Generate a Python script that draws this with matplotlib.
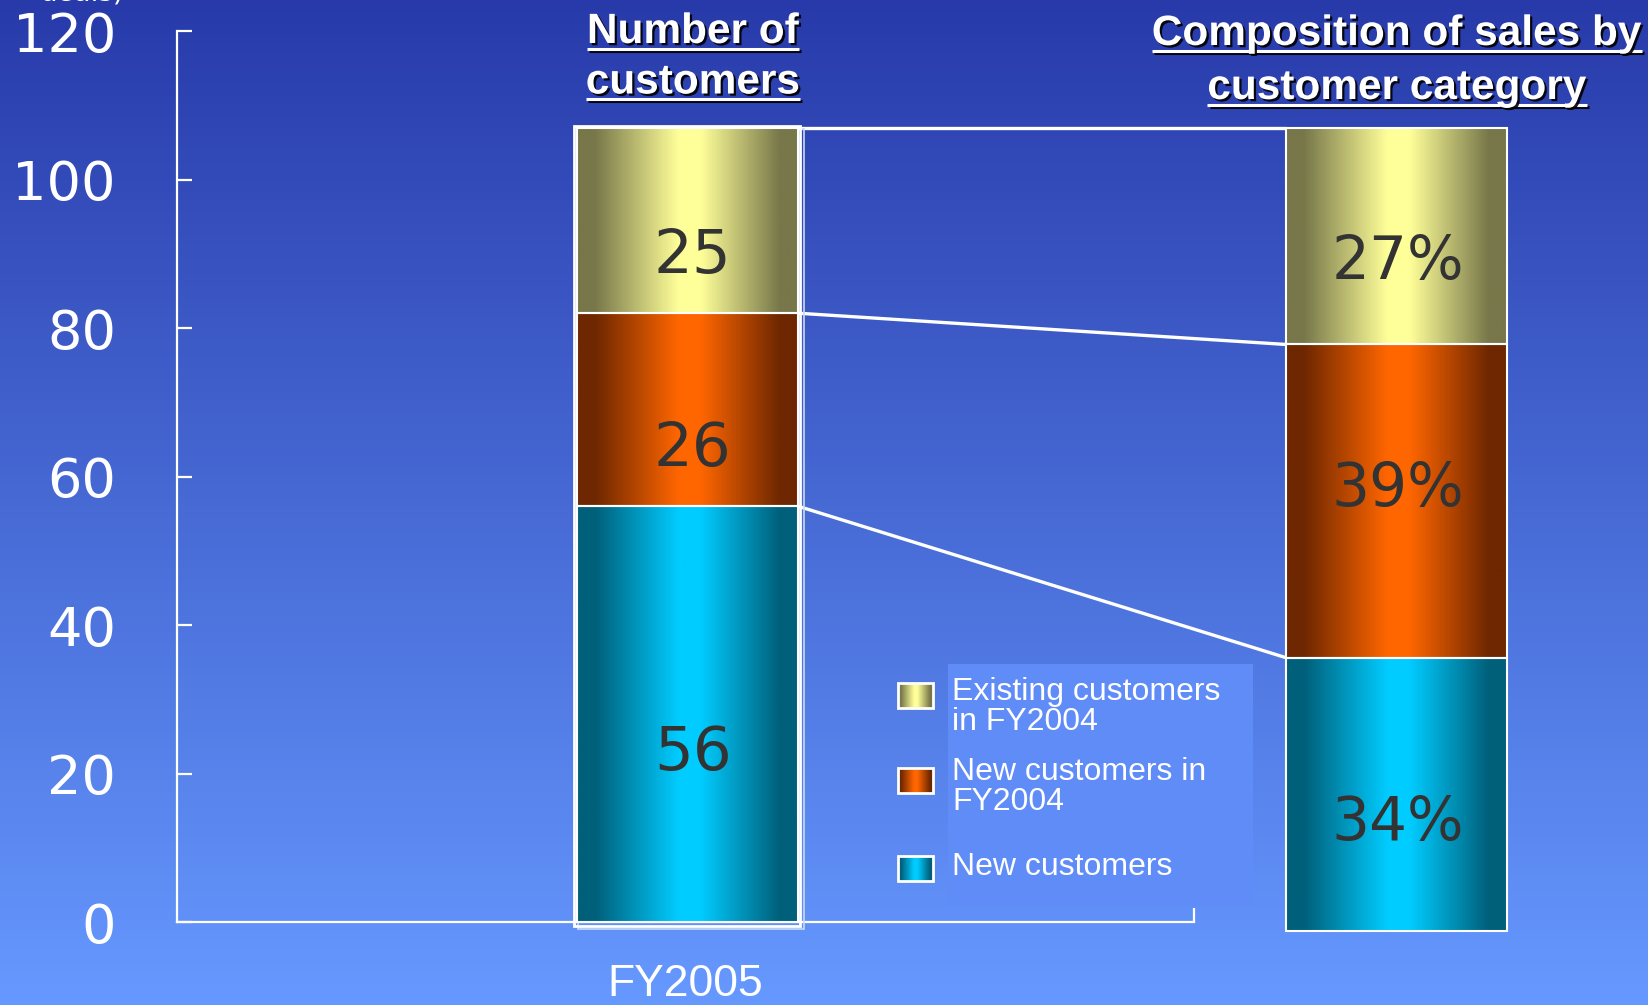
import numpy as np
import matplotlib.pyplot as plt
import matplotlib.patheffects as pe
from matplotlib.colors import LinearSegmentedColormap
from matplotlib.patches import Rectangle

# ---- data (bottom -> top of the stacks) ----
segments = ["New customers", "New customers in\nFY2004", "Existing customers\nin FY2004"]
customers = [56, 26, 25]        # number of customers, FY2005
sales_share = [34, 39, 27]      # composition of sales, %
period = "FY2005"
y_ticks = [0, 20, 40, 60, 80, 100, 120]

edge_cols = ["#005f7a", "#6e2700", "#77774a"]
mid_cols = ["#00ccff", "#ff6600", "#ffff99"]

# label nudges (data units), matching the slide
count_dy = [-5.3, -5.3, -4.8]
share_dy = [-3.9, 1.5, -3.5]

W, H = 1649, 1005
fig = plt.figure(figsize=(W / 100, H / 100), dpi=100)

# background gradient
bg = fig.add_axes([0, 0, 1, 1])
bg_cmap = LinearSegmentedColormap.from_list("bg", ["#283aaa", "#6699ff"])
bg.imshow(np.linspace(0, 1, 256).reshape(-1, 1), cmap=bg_cmap,
          aspect="auto", extent=[0, 1, 0, 1])
bg.axis("off")


def bar_cmap(c_edge, c_mid):
    return LinearSegmentedColormap.from_list(
        "", [(0, c_edge), (0.08, c_edge), (0.46, c_mid), (0.56, c_mid),
             (0.92, c_edge), (1, c_edge)])


def gradient_box(a, x0, x1, y0, y1, c_edge, c_mid, z=3, lw=1.5):
    a.imshow(np.linspace(0, 1, 256).reshape(1, -1), cmap=bar_cmap(c_edge, c_mid),
             aspect="auto", extent=[x0, x1, y0, y1], zorder=z,
             interpolation="bilinear")
    a.add_patch(Rectangle((x0, y0), x1 - x0, y1 - y0, fill=False,
                          ec="white", lw=lw, zorder=z + 0.1))


# ---- main axes ----
ax = fig.add_axes([177 / W, 1.3 / H, 1 - 177 / W, 987.5 / H])
ax.set_autoscale_on(False)
ax.set_xlim(-0.5, 0.947)
ax.set_ylim(-11, 122)
ax.patch.set_alpha(0)

bw = 0.217
xl, xr = 0.002, 0.699
r_bottom, r_top = -1.2, sum(customers)

cum_l = np.concatenate([[0], np.cumsum(customers)])
cum_r = r_bottom + np.concatenate([[0], np.cumsum(sales_share)]) / 100 * (r_top - r_bottom)

# left bar: frame + soft drop shadow to the lower right
fx0, fx1 = xl - bw / 2 - 0.003, xl + bw / 2 + 0.002
ax.add_patch(Rectangle((fx0 + 0.004, -1.0), fx1 - fx0, cum_l[-1] + 0.8,
                       fill=False, ec="#c8dcf0", lw=1.2, zorder=2.8))
ax.add_patch(Rectangle((fx0, -0.6), fx1 - fx0, cum_l[-1] + 0.8,
                       fill=False, ec="white", lw=2, zorder=2.9))

for i in range(3):
    gradient_box(ax, xl - bw / 2, xl + bw / 2, cum_l[i], cum_l[i + 1],
                 edge_cols[i], mid_cols[i])
    ax.text(xl + 0.005, (cum_l[i] + cum_l[i + 1]) / 2 + count_dy[i], str(customers[i]),
            ha="center", va="center", fontsize=44, color="#333333", zorder=5)

    gradient_box(ax, xr - bw / 2, xr + bw / 2, cum_r[i], cum_r[i + 1],
                 edge_cols[i], mid_cols[i])
    ax.text(xr + 0.001, (cum_r[i] + cum_r[i + 1]) / 2 + share_dy[i], f"{sales_share[i]}%",
            ha="center", va="center", fontsize=43, color="#333333", zorder=5)

# connectors between the two stacks
for i in range(1, 4):
    ax.plot([xl + bw / 2, xr - bw / 2], [cum_l[i], cum_r[i]], color="white",
            lw=2.4, zorder=2.7, solid_capstyle="butt")

# axes styling
for s in ["top", "right"]:
    ax.spines[s].set_visible(False)
ax.spines["left"].set_bounds(0, 120)
ax.spines["bottom"].set_position(("data", 0))
ax.spines["bottom"].set_bounds(-0.5, 0.5)
for s in ["left", "bottom"]:
    ax.spines[s].set_color("white")
    ax.spines[s].set_linewidth(1.6)

ax.set_yticks(y_ticks)
ax.set_yticklabels([str(v) for v in y_ticks])
ax.tick_params(axis="y", direction="in", length=10.8, width=1.6, color="white",
               labelcolor="white", labelsize=39, pad=44)
ax.set_xticks([0])
ax.set_xticklabels([period], fontfamily="Liberation Sans")
ax.tick_params(axis="x", which="major", length=0, labelcolor="white",
               labelsize=32, pad=30)
ax.set_xticks([0.5], minor=True)
ax.tick_params(axis="x", which="minor", direction="in", length=10, width=1.6,
               color="white")

# ---- overlay in pixel coords: titles, legend, unit ----
ov = fig.add_axes([0, 0, 1, 1])
ov.set_xlim(0, W)
ov.set_ylim(H, 0)
ov.axis("off")

# unit label, cut by the top edge as on the slide
ov.text(82, 6, "(No. of\ndeals)", ha="center", va="bottom", fontsize=20,
        color="white", multialignment="center")

shadow_txt = [pe.withSimplePatchShadow(offset=(1.6, -1.6), shadow_rgbFace="black", alpha=0.9)]
shadow_ln = [pe.SimpleLineShadow(offset=(1.6, -1.6), shadow_color="black", alpha=0.9), pe.Normal()]

titles = [(693, [("Number of", 43), ("customers", 93.5)]),
          (1397, [("Composition of sales by", 45), ("customer category", 99)])]
title_objs = []
for cx, lines in titles:
    for txt, base in lines:
        t = ov.text(cx, base, txt, ha="center", va="baseline", fontsize=30.5,
                    fontweight="bold", fontfamily="Liberation Sans", color="white",
                    path_effects=shadow_txt)
        title_objs.append((t, base))

fig.canvas.draw()
for t, base in title_objs:
    bb = t.get_window_extent()
    ov.plot([bb.x0, bb.x1], [base + 5.5, base + 5.5], color="white", lw=2.2,
            path_effects=shadow_ln, solid_capstyle="butt")

# legend
ov.add_patch(Rectangle((948, 664), 305, 241, color="#5f8cf7", lw=0, zorder=1))
leg_rows = [(683, [700, 730]), (768, [780, 810]), (856, [875])]
for (sq_y, bases), k in zip(leg_rows, [2, 1, 0]):
    gradient_box(ov, 898, 933, sq_y + 25, sq_y, edge_cols[k], mid_cols[k], z=3, lw=2)
    for line, b in zip(segments[k].split("\n"), bases):
        ov.text(952, b, line, ha="left", va="baseline", fontsize=23,
                fontfamily="Liberation Sans", color="white", zorder=4)

fig.savefig("out.png", dpi=100)
